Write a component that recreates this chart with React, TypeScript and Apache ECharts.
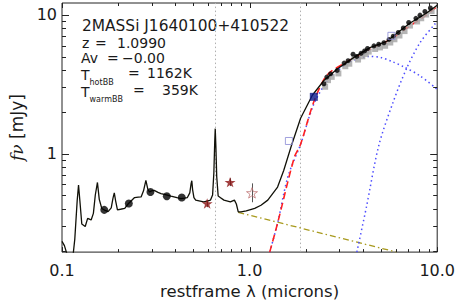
import React, { useEffect, useRef } from "react";
import * as echarts from "echarts";

// ---- Data (rest-frame wavelength in microns, flux density in mJy) ----
const modelLambda = [
  0.1, 0.103, 0.106, 0.108, 0.114, 0.117, 0.1205, 0.1225, 0.1245, 0.1275,
  0.133, 0.137, 0.14, 0.143, 0.147, 0.1505, 0.1545, 0.158, 0.163, 0.17,
  0.176, 0.183, 0.187, 0.19, 0.193, 0.1975, 0.205, 0.216, 0.225, 0.2437,
  0.255, 0.264, 0.272, 0.28, 0.2865, 0.2925, 0.3, 0.31, 0.325, 0.337,
  0.36, 0.381, 0.41, 0.43, 0.45, 0.466, 0.48, 0.488, 0.492, 0.497,
  0.505, 0.516, 0.545, 0.57, 0.6, 0.619, 0.635, 0.645, 0.652, 0.656,
  0.661, 0.668, 0.68, 0.7, 0.73, 0.79, 0.83, 0.85, 0.87, 0.9,
  0.96, 1.065, 1.15, 1.25, 1.41, 1.52, 1.67, 1.87, 2.16, 2.49,
  2.93, 3.6, 4.38, 5.4, 6.1, 7.14, 8.75, 10.0,
];
const modelFlux = [
  0.233, 0.217, 0.191, 0.174, 0.174, 0.242, 0.459, 0.592, 0.459, 0.311,
  0.298, 0.341, 0.337, 0.332, 0.371, 0.503, 0.619, 0.468, 0.402, 0.389,
  0.382, 0.406, 0.477, 0.521, 0.459, 0.393, 0.397, 0.403, 0.433, 0.482,
  0.486, 0.487, 0.539, 0.64, 0.556, 0.529, 0.539, 0.543, 0.525, 0.515,
  0.503, 0.493, 0.481, 0.474, 0.477, 0.482, 0.521, 0.61, 0.637, 0.548,
  0.481, 0.462, 0.455, 0.449, 0.457, 0.462, 0.503, 0.727, 1.232, 1.512,
  1.139, 0.682, 0.494, 0.481, 0.462, 0.449, 0.462, 0.433, 0.38, 0.38,
  0.386, 0.403, 0.424, 0.462, 0.574, 0.755, 1.139, 1.796, 2.631, 3.362,
  4.072, 4.931, 5.797, 6.446, 7.361, 8.696, 10.25, 11.72,
];

const powerLawLambda = [0.87, 6.07];
const powerLawFlux = [0.377, 0.195];

const hotLambda = [1.28, 1.41, 1.6, 1.87, 2.2, 2.6, 3.0, 3.5, 4.0, 4.4, 5.0, 5.8, 6.6, 8.1, 10.0];
const hotFlux = [0.195, 0.315, 0.682, 1.167, 2.274, 3.343, 4.033, 4.63, 4.931, 5.01, 4.93, 4.58, 4.232, 3.637, 2.903];

const warmLambda = [3.73, 4.2, 4.88, 5.83, 6.85, 8.1, 9.8, 10.0];
const warmFlux = [0.195, 0.415, 1.139, 2.36, 4.072, 6.292, 8.696, 8.9];

const dustLambda = [1.28, 1.41, 1.73, 1.87, 2.2, 2.58, 3.25, 3.93, 4.78, 5.83, 7.14, 8.75, 10.0];
const dustFlux = [0.195, 0.315, 0.936, 1.167, 2.36, 3.658, 4.529, 5.201, 5.969, 6.82, 8.284, 9.94, 11.51];

const irsLambda = [
  2.49, 2.58, 2.7, 2.93, 3.19, 3.35, 3.56, 3.73, 3.93, 4.1, 4.25, 4.6,
  4.88, 5.2, 5.54, 5.83, 6.2, 6.6, 7.05, 7.7, 8.1, 8.6, 9.2,
];
const irsFlux = [
  3.186, 3.558, 3.756, 3.974, 4.489, 4.669, 5.201, 5.01, 5.28, 5.49, 5.713, 5.969,
  6.131, 6.292, 6.645, 7.01, 7.464, 8.03, 8.8, 9.424, 9.94, 10.57, 11.19,
];
const irsModelFlux = [
  3.03, 3.38, 3.57, 3.78, 4.26, 4.44, 4.94, 4.76, 5.02, 5.22, 5.43, 5.67,
  5.82, 5.98, 6.31, 6.66, 7.09, 7.63, 8.36, 8.95, 9.44, 10.04, 10.63,
];

const photLambda = [0.168, 0.227, 0.296, 0.362, 0.435];
const photFlux = [0.393, 0.437, 0.529, 0.493, 0.482];

const starLambda = [0.594, 0.787];
const starFlux = [0.437, 0.6225];
const starErrLo = [0.411, 0.583];
const starErrHi = [0.463, 0.664];

const openStarLambda = [1.03];
const openStarFlux = [0.521];
const openStarErrLo = [0.446];
const openStarErrHi = [0.61];

const openSquareLambda = [1.62, 5.7];
const openSquareFlux = [1.232, 7.055];

const filledSquareLambda = [2.2];
const filledSquareFlux = [2.563];

const markerLambdas = [0.658, 1.87];

const xMin = 0.1;
const xMax = 10;
const yMin = 0.195;
const yMax = 12.16;

const xMajorTicks = [0.1, 1, 10];
const xMinorTicks = [0.2, 0.3, 0.4, 0.5, 0.6, 0.7, 0.8, 0.9, 2, 3, 4, 5, 6, 7, 8, 9];
const yMajorTicks = [1, 10];
const yMinorTicks = [0.2, 0.3, 0.4, 0.5, 0.6, 0.7, 0.8, 0.9, 2, 3, 4, 5, 6, 7, 8, 9];

const xTickLabels: Record<string, string> = { "0.1": "0.1", "1": "1.0", "10": "10.0" };
const yTickLabels: Record<string, string> = { "1": "1", "10": "10" };

const zip = (a: number[], b: number[]) => a.map((v, i) => [v, b[i]]);

const STAR =
  "path://M50,0 L61.8,35.1 L98.1,35.1 L68.8,56.7 L79.4,91 L50,70 L20.6,91 L31.2,56.7 L1.9,35.1 L38.2,35.1 Z";

const FONT = "DejaVu Sans";
const INK = "#1a1a1a";

export default function App() {
  const ref = useRef<HTMLDivElement>(null);

  useEffect(() => {
    if (!ref.current) return;
    const chart = echarts.init(ref.current, undefined, { renderer: "svg" });

    const tickData = [
      ...xMajorTicks.map((v) => [v, yMin, 1, 0]),
      ...xMinorTicks.map((v) => [v, yMin, 0, 0]),
      ...yMajorTicks.map((v) => [xMin, v, 1, 1]),
      ...yMinorTicks.map((v) => [xMin, v, 0, 1]),
    ];

    const text = (x: number, y: number, t: string, size: number) => ({
      type: "text",
      x,
      y,
      silent: true,
      style: {
        text: t,
        fontFamily: FONT,
        fontSize: size,
        lineHeight: 12,
        fill: INK,
        verticalAlign: "middle",
        textVerticalAlign: "middle",
      },
    });

    const subText = (x: number, y: number, main: string, sub: string) => ({
      type: "text",
      x,
      y,
      silent: true,
      style: {
        text: `{m|${main}}{s|${sub}}`,
        fontFamily: FONT,
        fill: INK,
        verticalAlign: "middle",
        textVerticalAlign: "middle",
        rich: {
          m: { fontFamily: FONT, fontSize: 14, lineHeight: 13, verticalAlign: "top", fill: INK, color: INK },
          s: {
            fontFamily: FONT,
            fontSize: 8,
            lineHeight: 7,
            verticalAlign: "top",
            padding: [10.5, 0, 0, 0],
            fill: INK,
            color: INK,
          },
        },
      },
    });

    const option: any = {
      animation: false,
      grid: {
        left: 60,
        right: 19,
        top: 3,
        bottom: 49,
        show: true,
        borderColor: "#222",
        borderWidth: 1,
        backgroundColor: "transparent",
      },
      xAxis: {
        type: "log",
        logBase: 10,
        min: xMin,
        max: xMax,
        axisLine: { show: false },
        axisTick: { show: false },
        splitLine: { show: false },
        axisLabel: {
          margin: 10,
          fontFamily: FONT,
          fontSize: 16,
          color: INK,
          formatter: (v: number) => {
            const k = String(Math.round(v * 1000) / 1000);
            return xTickLabels[k] ?? "";
          },
        },
        name: "restframe λ (microns)",
        nameLocation: "middle",
        nameGap: 29,
        nameTextStyle: { fontFamily: FONT, fontSize: 16.5, color: INK },
      },
      yAxis: {
        type: "log",
        logBase: 10,
        min: yMin,
        max: yMax,
        axisLine: { show: false },
        axisTick: { show: false },
        splitLine: { show: false },
        axisLabel: {
          margin: 5,
          fontFamily: FONT,
          fontSize: 16,
          color: INK,
          showMinLabel: false,
          showMaxLabel: false,
          formatter: (v: number) => {
            const k = String(Math.round(v * 1000) / 1000);
            return yTickLabels[k] ?? "";
          },
        },
        name: "{i|fν} [mJy]",
        nameLocation: "middle",
        nameGap: 37,
        nameRotate: 90,
        nameTextStyle: {
          fontFamily: FONT,
          fontSize: 17,
          color: INK,
          rich: {
            i: { fontFamily: "DejaVu Serif", fontStyle: "italic", fontSize: 17, color: INK },
          },
        },
      },
      graphic: [
        text(82, 26, "2MASSi J1640100+410522", 15.4),
        text(82, 43, "z", 14),
        text(95, 43, "=", 14),
        text(117, 43, "1.0990", 14),
        text(81, 58, "Av", 14),
        text(107, 58, "=", 14),
        text(122, 58, "−0.00", 14),
        subText(81, 74.5, "T", "hotBB"),
        text(128, 73, "=", 14),
        text(147, 73, "1162K", 14),
        subText(81, 91.5, "T", "warmBB"),
        text(133, 90, "=", 14),
        text(162, 90, "359K", 14),
      ],
      series: [
        {
          type: "line",
          data: zip(powerLawLambda, powerLawFlux),
          showSymbol: false,
          symbol: "none",
          lineStyle: { color: "#a89a1e", width: 1.3, type: [6, 3, 1.5, 3] },
          z: 2,
        },
        {
          type: "line",
          data: zip(hotLambda, hotFlux),
          showSymbol: false,
          symbol: "none",
          smooth: 0.3,
          lineStyle: { color: "#4d4dff", width: 1.5, type: [1.5, 3] },
          z: 2,
        },
        {
          type: "line",
          data: zip(warmLambda, warmFlux),
          showSymbol: false,
          symbol: "none",
          smooth: 0.3,
          lineStyle: { color: "#4d4dff", width: 1.5, type: [1.5, 3] },
          z: 2,
        },
        {
          type: "line",
          data: zip(dustLambda, dustFlux),
          showSymbol: false,
          symbol: "none",
          smooth: 0.3,
          lineStyle: { color: "#ff2020", width: 1.6, type: [7, 4] },
          z: 3,
        },
        {
          type: "scatter",
          data: zip(irsLambda.map((v) => v * 1.015), irsModelFlux),
          symbol: "rect",
          symbolSize: 6,
          itemStyle: { color: "#a8a8a8", opacity: 0.85 },
          z: 4,
        },
        {
          type: "line",
          data: zip(modelLambda, modelFlux),
          showSymbol: false,
          symbol: "none",
          smooth: false,
          lineStyle: { color: "#111108", width: 1.3 },
          z: 5,
          markLine: {
            silent: true,
            symbol: "none",
            label: { show: false },
            lineStyle: { color: "#b0b0b0", width: 1, type: [1.5, 2.5] },
            data: markerLambdas.map((v) => ({ xAxis: v })),
            z: 1,
          },
        },
        {
          type: "scatter",
          data: zip(irsLambda, irsFlux),
          symbol: "circle",
          symbolSize: 5,
          itemStyle: { color: "#000" },
          z: 6,
        },
        {
          type: "scatter",
          data: zip(photLambda, photFlux),
          symbol: "circle",
          symbolSize: 8,
          itemStyle: { color: "#000" },
          z: 6,
        },
        {
          type: "custom",
          data: [
            ...starLambda.map((v, i) => [v, starErrLo[i], starErrHi[i]]),
            ...openStarLambda.map((v, i) => [v, openStarErrLo[i], openStarErrHi[i]]),
          ],
          encode: { x: 0, y: [1, 2] },
          renderItem: (params: any, api: any) => {
            const p1 = api.coord([api.value(0), api.value(1)]);
            const p2 = api.coord([api.value(0), api.value(2)]);
            const x = Math.round(p1[0]) + 0.5;
            return {
              type: "line",
              shape: { x1: x, y1: p1[1], x2: x, y2: p2[1] },
              style: { stroke: "#555", lineWidth: 1 },
            };
          },
          z: 6,
        },
        {
          type: "scatter",
          data: zip(starLambda, starFlux),
          symbol: STAR,
          symbolKeepAspect: true,
          symbolSize: 11,
          itemStyle: { color: "#8b1010" },
          z: 7,
        },
        {
          type: "scatter",
          data: zip(openStarLambda, openStarFlux),
          symbol: STAR,
          symbolKeepAspect: true,
          symbolSize: 11,
          itemStyle: { color: "rgba(255,255,255,0)", borderColor: "#c07878", borderWidth: 1 },
          z: 7,
        },
        {
          type: "scatter",
          data: zip(openSquareLambda, openSquareFlux),
          symbol: "rect",
          symbolSize: 7,
          itemStyle: { color: "rgba(255,255,255,0)", borderColor: "#8a8ad6", borderWidth: 1 },
          z: 7,
        },
        {
          type: "scatter",
          data: zip(filledSquareLambda, filledSquareFlux),
          symbol: "rect",
          symbolSize: 8,
          itemStyle: { color: "#0a168a" },
          z: 8,
        },
        {
          type: "custom",
          data: tickData,
          encode: { x: 0, y: 1 },
          clip: false,
          silent: true,
          renderItem: (params: any, api: any) => {
            const cs = params.coordSys;
            const major = api.value(2) === 1;
            const isY = api.value(3) === 1;
            const stroke = { stroke: "#222", lineWidth: 1 };
            if (!isY) {
              const len = major ? 5 : 3;
              const p = api.coord([api.value(0), yMin]);
              const x = Math.round(p[0]) + 0.5;
              const yb = cs.y + cs.height;
              return {
                type: "group",
                children: [
                  { type: "line", shape: { x1: x, y1: yb, x2: x, y2: yb - len }, style: stroke },
                  { type: "line", shape: { x1: x, y1: cs.y, x2: x, y2: cs.y + len }, style: stroke },
                ],
              };
            }
            const len = major ? 7 : 4;
            const p = api.coord([xMin, api.value(1)]);
            const y = Math.round(p[1]) + 0.5;
            const xr = cs.x + cs.width;
            return {
              type: "group",
              children: [
                { type: "line", shape: { x1: cs.x, y1: y, x2: cs.x + len, y2: y }, style: stroke },
                { type: "line", shape: { x1: xr, y1: y, x2: xr - len, y2: y }, style: stroke },
              ],
            };
          },
          z: 10,
        },
      ],
    };

    chart.setOption(option);
    return () => chart.dispose();
  }, []);

  return <div ref={ref} style={{ width: 458, height: 305, position: "absolute", left: 0, top: 0 }} />;
}
